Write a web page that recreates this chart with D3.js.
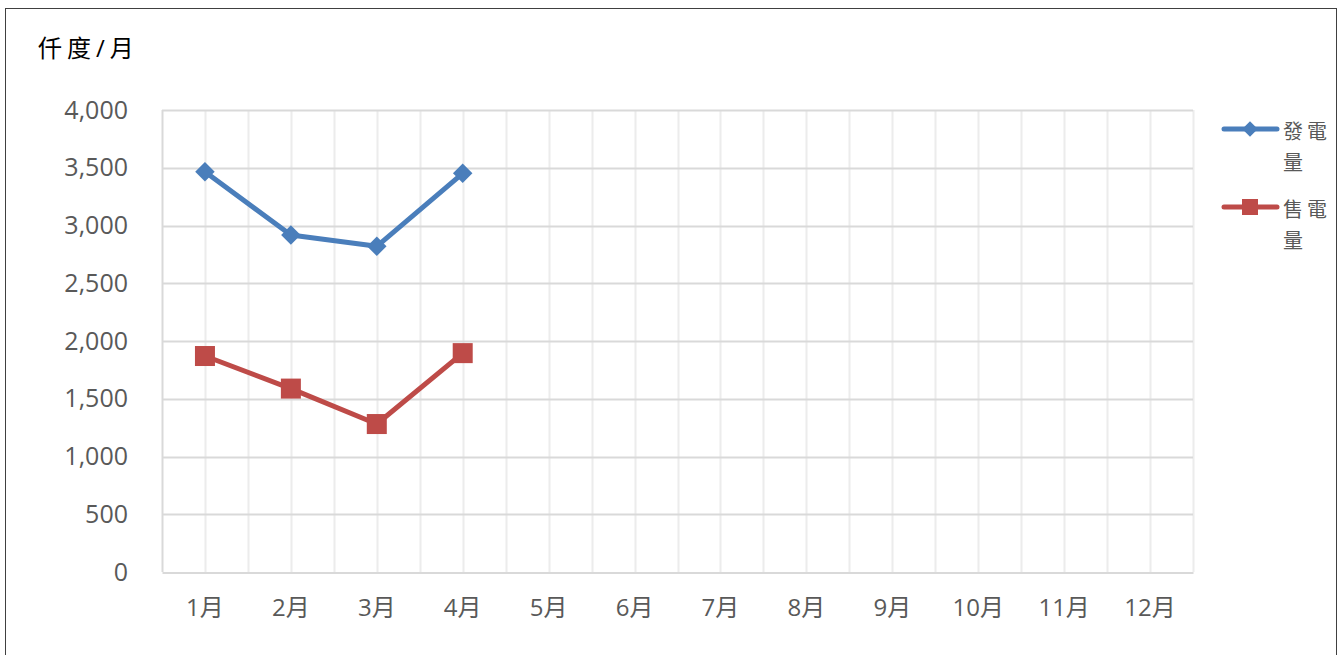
<!DOCTYPE html>
<html>
<head>
<meta charset="utf-8">
<script src="https://cdn.jsdelivr.net/npm/d3@7"></script>
<style>
  body { margin: 0; background: #fff; }
  text { font-family: "Open Sans", "Noto Sans CJK TC", sans-serif; }
</style>
</head>
<body>
<div id="chart"></div>
<script>
// months on the category axis
var months = ['1月','2月','3月','4月','5月','6月','7月','8月','9月','10月','11月','12月'];
// 發電量 / 售電量 (仟度), only Jan-Apr reported
var genValues  = [3465, 2918, 2820, 3452];
var saleValues = [1870, 1588, 1281, 1895];
var yTicks = [0, 500, 1000, 1500, 2000, 2500, 3000, 3500, 4000];

var width = 1343, height = 655
  , margin = { left: 162, right: 150, top: 110, bottom: 83 }
  , blue = '#4a7ebb'
  , red = '#be4b48';

var svg = d3.select('#chart').append('svg')
  .attr('width', width)
  .attr('height', height);

// outer frame
svg.append('rect')
  .attr('x', 5.5).attr('y', 8.5)
  .attr('width', 1331).attr('height', 660)
  .attr('fill', 'none')
  .attr('stroke', '#404040')
  .attr('stroke-width', 1);

var x = d3.scaleBand()
  .domain(months)
  .range([margin.left, width - margin.right]);

var y = d3.scaleLinear()
  .domain([0, 4000])
  .range([height - margin.bottom, margin.top]);

var grid = svg.append('g');

// vertical gridlines: category centres and boundaries
var vlines = [];
months.forEach(function(m) {
  vlines.push(x(m));
  vlines.push(x(m) + x.bandwidth() / 2);
});
vlines.push(x.range()[1]);
grid.selectAll('.vgrid')
  .data(vlines.slice(1))
  .enter().append('line')
  .attr('x1', function(d) { return Math.round(d) + 0.5; })
  .attr('x2', function(d) { return Math.round(d) + 0.5; })
  .attr('y1', y(4000))
  .attr('y2', y(0))
  .attr('stroke', '#ececec')
  .attr('stroke-width', 2);

// horizontal gridlines
grid.selectAll('.hgrid')
  .data(yTicks.slice(1))
  .enter().append('line')
  .attr('x1', margin.left)
  .attr('x2', width - margin.right)
  .attr('y1', function(d) { return Math.round(y(d)) + 0.5; })
  .attr('y2', function(d) { return Math.round(y(d)) + 0.5; })
  .attr('stroke', '#d9d9d9')
  .attr('stroke-width', 2);

// y axis labels
var fmt = d3.format(',');
svg.append('g')
  .attr('transform', 'translate(' + margin.left + ',0)')
  .call(d3.axisLeft(y).tickValues(yTicks).tickFormat(fmt).tickSize(0).tickPadding(34))
  .call(function(g) { g.select('.domain').remove(); })
  .selectAll('text')
  .attr('font-size', 25)
  .attr('fill', '#595959')
  .attr('font-family', '"Open Sans", sans-serif');

// left axis line
svg.append('line')
  .attr('x1', margin.left + 0.5).attr('x2', margin.left + 0.5)
  .attr('y1', y(4000)).attr('y2', y(0))
  .attr('stroke', '#d9d9d9').attr('stroke-width', 2);

// x axis
var xAxis = svg.append('g')
  .attr('transform', 'translate(0,' + (Math.round(y(0)) + 0.5) + ')')
  .call(d3.axisBottom(x).tickSize(0).tickPadding(26));
xAxis.select('.domain').attr('stroke', '#d9d9d9').attr('stroke-width', 2);
xAxis.selectAll('text')
  .attr('font-size', 24)
  .attr('fill', '#595959')
  .attr('font-family', '"Open Sans", "Noto Sans CJK TC", sans-serif');

// unit title
svg.append('text')
  .attr('x', 38).attr('y', 57)
  .attr('font-size', 24)
  .attr('fill', '#000')
  .attr('letter-spacing', 5)
  .attr('font-family', '"Noto Sans CJK TC", sans-serif')
  .text('仟度/月');

var line = d3.line()
  .x(function(d, i) { return x(months[i]) + x.bandwidth() / 2; })
  .y(function(d) { return y(d); });

svg.append('path')
  .datum(genValues)
  .attr('d', line)
  .attr('fill', 'none')
  .attr('stroke', blue)
  .attr('stroke-width', 5)
  .attr('stroke-linejoin', 'round');

svg.append('path')
  .datum(saleValues)
  .attr('d', line)
  .attr('fill', 'none')
  .attr('stroke', red)
  .attr('stroke-width', 5)
  .attr('stroke-linejoin', 'round');

var diamond = d3.symbol().type(d3.symbolSquare).size(190);

svg.selectAll('.gen')
  .data(genValues)
  .enter().append('path')
  .attr('d', diamond)
  .attr('fill', blue)
  .attr('transform', function(d, i) {
    return 'translate(' + (x(months[i]) + x.bandwidth() / 2) + ',' + y(d) + ') rotate(45)';
  });

svg.selectAll('.sale')
  .data(saleValues)
  .enter().append('rect')
  .attr('x', function(d, i) { return x(months[i]) + x.bandwidth() / 2 - 10; })
  .attr('y', function(d) { return y(d) - 10; })
  .attr('width', 20).attr('height', 20)
  .attr('fill', red);

// legend
var legend = [
  { name: ['發電', '量'], color: blue, shape: 'diamond', y: 129 },
  { name: ['售電', '量'], color: red, shape: 'square', y: 207 }
];
var lg = svg.selectAll('.legend')
  .data(legend)
  .enter().append('g')
  .attr('transform', function(d) { return 'translate(1222,' + d.y + ')'; });

lg.append('line')
  .attr('x1', 2).attr('x2', 55)
  .attr('stroke', function(d) { return d.color; })
  .attr('stroke-width', 5)
  .attr('stroke-linecap', 'round');

var legendDiamond = d3.symbol().type(d3.symbolSquare).size(120);
lg.each(function(d) {
  var g = d3.select(this);
  if (d.shape === 'diamond') {
    g.append('path')
      .attr('d', legendDiamond)
      .attr('fill', d.color)
      .attr('transform', 'translate(28,0) rotate(45)');
  } else {
    g.append('rect')
      .attr('x', 20).attr('y', -8)
      .attr('width', 16).attr('height', 16)
      .attr('fill', d.color);
  }
  g.selectAll('text')
    .data(d.name)
    .enter().append('text')
    .attr('x', 61)
    .attr('y', function(t, i) { return 10 + i * 31; })
    .attr('font-size', 20)
    .attr('letter-spacing', 4)
    .attr('fill', '#595959')
    .attr('font-family', '"Noto Sans CJK TC", sans-serif')
    .text(function(t) { return t; });
});
</script>
</body>
</html>
